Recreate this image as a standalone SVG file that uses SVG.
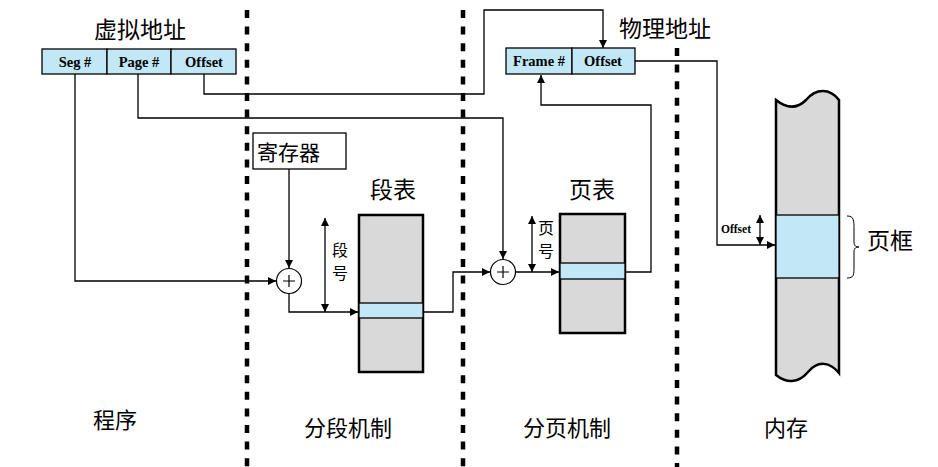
<svg xmlns="http://www.w3.org/2000/svg" width="938" height="467" viewBox="0 0 938 467">
<style>
.cn{font-family:"Noto Sans CJK SC","Noto Sans",sans-serif;fill:#000}
.lb{font-family:"Liberation Serif",serif;font-weight:bold;font-size:14.5px;fill:#000;text-anchor:middle}
.cell{fill:#c2e8f7;stroke:#000;stroke-width:1.3}
.ln{fill:none;stroke:#000;stroke-width:1.3}
.dash{stroke:#000;stroke-width:4.5;stroke-dasharray:8 8.6}
.tbl{fill:#d9d9d9;stroke:#000;stroke-width:2.5}
.band{fill:#c2e8f7;stroke:#000;stroke-width:1.3}
</style>
<defs>
<marker id="ah" viewBox="0 0 10 10" refX="10" refY="5" markerWidth="8" markerHeight="8" markerUnits="userSpaceOnUse" orient="auto-start-reverse">
<path d="M0,0 L10,5 L0,10 z" fill="#000"/>
</marker>
</defs>
<rect width="938" height="467" fill="#fff"/>
<g id="dividers">
<line class="dash" x1="247" y1="10" x2="247" y2="467"/>
<line class="dash" x1="463" y1="10" x2="463" y2="467"/>
<line class="dash" x1="677" y1="48" x2="677" y2="467"/>
</g>
<g id="virtual-address">
<text class="cn" x="140" y="38" font-size="23" text-anchor="middle">虚拟地址</text>
<rect class="cell" x="42" y="49" width="65" height="25"/>
<rect class="cell" x="107" y="49" width="64" height="25"/>
<rect class="cell" x="171" y="49" width="65" height="25"/>
<text class="lb" x="75" y="66.5">Seg #</text>
<text class="lb" x="139" y="66.5">Page #</text>
<text class="lb" x="204" y="66.5">Offset</text>
</g>
<g id="physical-address">
<text class="cn" x="665" y="37" font-size="23" text-anchor="middle">物理地址</text>
<rect class="cell" x="506" y="48" width="66" height="26"/>
<rect class="cell" x="572" y="48" width="63" height="26"/>
<text class="lb" x="539" y="66">Frame #</text>
<text class="lb" x="603" y="66">Offset</text>
</g>
<g id="register">
<rect x="253" y="133" width="93" height="36" fill="#fff" stroke="#000" stroke-width="1.3"/>
<text class="cn" x="257" y="160" font-size="21">寄存器</text>
</g>
<g id="adder-seg">
<circle cx="289" cy="281" r="12.5" fill="#fff" stroke="#000" stroke-width="1.2"/>
<path d="M283,281 H295 M289,275 V287" stroke="#000" stroke-width="1.2"/>
</g>
<g id="adder-page">
<circle cx="503" cy="272" r="12.5" fill="#fff" stroke="#000" stroke-width="1.2"/>
<path d="M497,272 H509 M503,266 V278" stroke="#000" stroke-width="1.2"/>
</g>
<g id="segment-table">
<text class="cn" x="393" y="198" font-size="23" text-anchor="middle">段表</text>
<rect class="tbl" x="359" y="215" width="64" height="157"/>
<rect class="band" x="359" y="303" width="64" height="15"/>
<text class="cn" x="340" y="256" font-size="16" text-anchor="middle">段</text>
<text class="cn" x="340" y="279" font-size="16" text-anchor="middle">号</text>
</g>
<g id="page-table">
<text class="cn" x="592" y="198" font-size="23" text-anchor="middle">页表</text>
<rect class="tbl" x="560" y="214" width="65" height="119"/>
<rect class="band" x="560" y="263" width="65" height="16"/>
<text class="cn" x="546" y="234" font-size="16" text-anchor="middle">页</text>
<text class="cn" x="546" y="257" font-size="16" text-anchor="middle">号</text>
</g>
<g id="memory">
<path class="tbl" d="M776,100 C786,108 796,110 806,100 C816,88 830,88 839,100 L839,373 C830,362 818,360 808,372 C798,384 786,383 776,375 Z"/>
<rect class="band" x="776" y="215" width="63" height="63" stroke-width="2.5"/>
<path d="M847,216 C854,216 854,220 854,230 L854,242 C854,246 856,247 859,247 C856,247 854,248 854,252 L854,266 C854,275 854,278 847,278" fill="none" stroke="#000" stroke-width="1"/>
<text class="cn" x="890" y="249" font-size="23" text-anchor="middle">页框</text>
<text x="721" y="233" font-family="Liberation Serif,serif" font-weight="bold" font-size="11.5">Offset</text>
</g>
<g id="labels">
<text class="cn" x="115" y="428" font-size="22" text-anchor="middle">程序</text>
<text class="cn" x="348" y="436" font-size="22" text-anchor="middle">分段机制</text>
<text class="cn" x="567" y="436" font-size="22" text-anchor="middle">分页机制</text>
<text class="cn" x="786" y="436" font-size="22" text-anchor="middle">内存</text>
</g>
<g id="connectors">
<path class="ln" d="M204,74 V94 H484 V10 H603 V48" marker-end="url(#ah)"/>
<path class="ln" d="M635,61 H717 V245 H775" marker-end="url(#ah)"/>
<path class="ln" d="M75,74 V281 H276" marker-end="url(#ah)"/>
<path class="ln" d="M289,169 V268" marker-end="url(#ah)"/>
<path class="ln" d="M289,294 V312 H358" marker-end="url(#ah)"/>
<path class="ln" d="M325,218 V312" marker-start="url(#ah)" marker-end="url(#ah)"/>
<path class="ln" d="M423,312 H453 V272 H490" marker-end="url(#ah)"/>
<path class="ln" d="M138,74 V118 H503 V259" marker-end="url(#ah)"/>
<path class="ln" d="M516,272 H559" marker-end="url(#ah)"/>
<path class="ln" d="M532,216 V272" marker-start="url(#ah)" marker-end="url(#ah)"/>
<path class="ln" d="M625,272 H651 V105 H541 V75" marker-end="url(#ah)"/>
<path class="ln" d="M760,215 V245" marker-start="url(#ah)" marker-end="url(#ah)"/>
</g>
</svg>
